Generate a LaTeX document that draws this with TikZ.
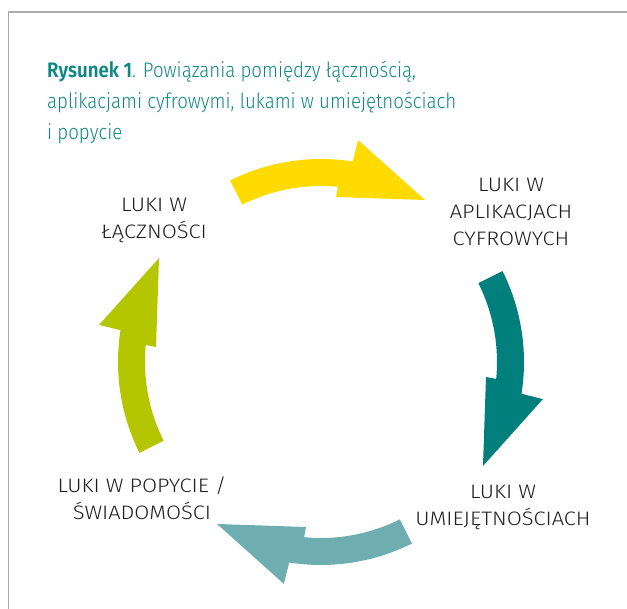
\documentclass[tikz,border=0pt]{standalone}
\usepackage{fontspec}
\setmainfont{Fira Sans Light}[BoldFont={Fira Sans SemiBold}]
\newfontfamily\titlefont{Fira Sans Light}[BoldFont={Fira Sans SemiBold}, FakeStretch=0.89]
\newfontfamily\labelfont{Fira Sans Light}[FakeStretch=1.12]
\definecolor{framegray}{HTML}{ABABAB}
\definecolor{titleteal}{HTML}{0E8884}
\definecolor{cyyellow}{HTML}{FFDB00}
\definecolor{cyteal}{HTML}{007F7C}
\definecolor{cylight}{HTML}{6EAEB0}
\definecolor{cygreen}{HTML}{B4C600}
\definecolor{labeltext}{HTML}{1E1E1E}
\newcommand\drawcyclearrow[2]{%
  \fill[#2] ({116.6+#1}:203) arc[start angle={116.6+#1}, end angle={81+#1}, radius=203]
    -- ({80.5+#1}:225) -- ({57.3+#1}:192.5) -- ({84.8+#1}:165.7) -- ({84.5+#1}:176)
    arc[start angle={84.5+#1}, end angle={116.6+#1}, radius=176] -- cycle;}
\begin{document}
\begin{tikzpicture}[x=1pt,y=1pt,
  lbl/.style={align=center, text=labeltext, inner sep=0pt, font=\labelfont\fontsize{19.5}{27}\selectfont}]
\useasboundingbox (0,0) rectangle (627,609);
\draw[framegray, line width=1.5pt] (8.5,0) -- (8.5,597) -- (627,597);
\node[anchor=base west, align=left, text=titleteal, inner sep=0pt,
  font=\titlefont\fontsize{21}{31}\selectfont] (title) at (47,469)
  {\textbf{Rysunek 1}. Powiązania pomiędzy łącznością,\\aplikacjami cyfrowymi, lukami w umiejętnościach\\i popycie};
\coordinate (C) at (321,247);
\begin{scope}[shift={(C)}]
  \drawcyclearrow{0}{cyyellow}
  \drawcyclearrow{-90}{cyteal}
  \drawcyclearrow{-180}{cylight}
  \drawcyclearrow{-270}{cygreen}
\end{scope}
\node[lbl] (lacz) at (154,388.5) {LUKI W\\ŁĄCZNOŚCI};
\node[lbl] (apl) at (511,397.5) {LUKI W\\APLIKACJACH\\CYFROWYCH};
\node[lbl] (umi) at (503,102) {LUKI W\\UMIEJĘTNOŚCIACH};
\node[lbl] (pop) at (142,111) {LUKI W POPYCIE /\\ŚWIADOMOŚCI};
\end{tikzpicture}
\end{document}
